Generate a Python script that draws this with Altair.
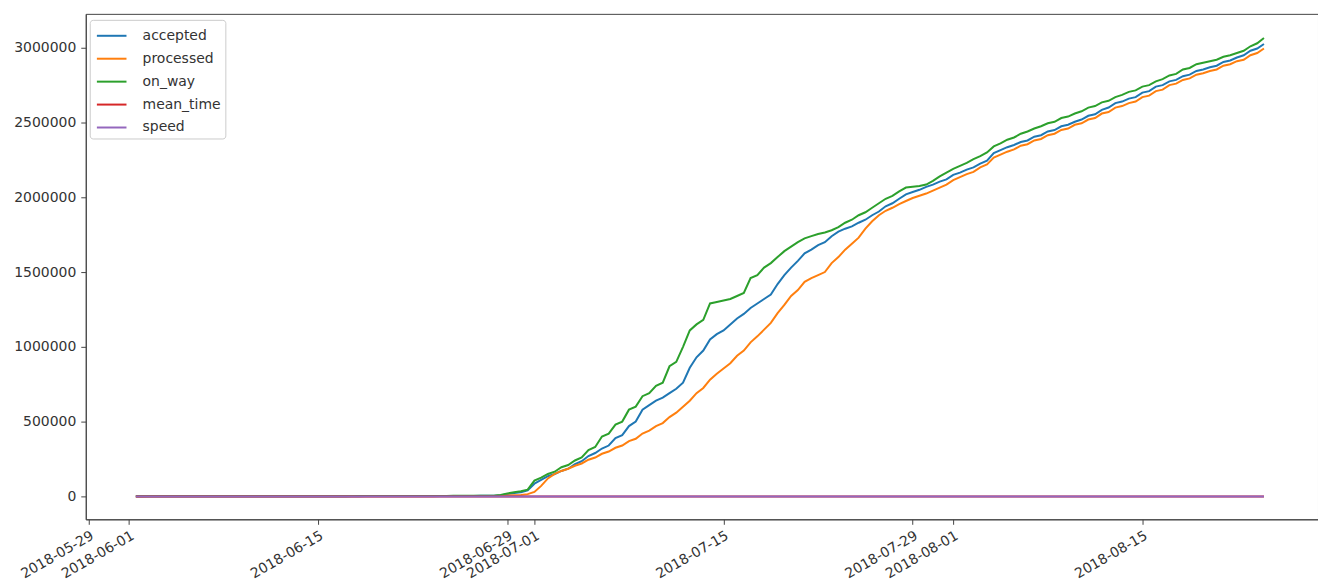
import altair as alt
import pandas as pd

# ---- data (values in thousands, 12-hour samples from 2018-06-01 12:00) ----
series_names = ["accepted", "processed", "on_way", "mean_time", "speed"]
series_colors = ["#1f77b4", "#ff7f0e", "#2ca02c", "#d62728", "#9467bd"]

start_time = "2018-06-01 12:00"

# 2018-06-01 12:00 .. 2018-06-27 12:00 (53 samples)
on_way_early = [0.1, 0.1, 0.2, 0.2, 0.3, 0.3, 0.4, 0.4, 0.5, 0.5,
                0.6, 0.6, 0.7, 0.7, 0.8, 0.8, 0.9, 0.9, 1.0, 1.0,
                1.1, 1.1, 1.2, 1.2, 1.3, 1.3, 1.4, 1.4, 1.5, 1.5,
                1.6, 1.6, 1.7, 1.8, 1.9, 2.0, 2.1, 2.2, 2.3, 2.4,
                2.5, 2.6, 2.7, 2.8, 3.0, 3.2, 3.4, 3.6, 3.8, 4.0,
                4.2, 4.4, 4.7]
accepted_early = [0.1, 0.1, 0.1, 0.2, 0.2, 0.2, 0.3, 0.3, 0.4, 0.4,
                  0.5, 0.5, 0.5, 0.6, 0.6, 0.7, 0.7, 0.8, 0.8, 0.9,
                  0.9, 1.0, 1.0, 1.1, 1.1, 1.2, 1.2, 1.3, 1.3, 1.4,
                  1.4, 1.5, 1.5, 1.6, 1.7, 1.8, 1.9, 2.0, 2.1, 2.2,
                  2.3, 2.4, 2.5, 2.6, 2.7, 2.8, 2.9, 3.0, 3.1, 3.2,
                  3.4, 3.6, 3.8]
processed_early = [0.0, 0.0, 0.1, 0.1, 0.1, 0.1, 0.2, 0.2, 0.2, 0.3,
                   0.3, 0.3, 0.4, 0.4, 0.4, 0.5, 0.5, 0.5, 0.6, 0.6,
                   0.6, 0.7, 0.7, 0.7, 0.8, 0.8, 0.8, 0.9, 0.9, 0.9,
                   1.0, 1.0, 1.0, 1.1, 1.1, 1.2, 1.2, 1.3, 1.3, 1.4,
                   1.4, 1.5, 1.5, 1.6, 1.6, 1.7, 1.7, 1.8, 1.8, 1.9,
                   1.9, 2.0, 2.0]

# 2018-06-28 00:00 .. 2018-08-24 00:00 (115 samples)
on_way_growth = [5, 10, 20, 28, 35, 45, 105, 125, 150, 165,
                 195, 210, 240, 260, 310, 330, 400, 420, 480, 500,
                 580, 600, 670, 690, 740, 760, 870, 900, 1000, 1110,
                 1150, 1180, 1290, 1300, 1310, 1320, 1340, 1360, 1460, 1480,
                 1530, 1560, 1600, 1640, 1670, 1700, 1725, 1740, 1755, 1765,
                 1780, 1800, 1830, 1850, 1880, 1900, 1930, 1960, 1990, 2010,
                 2040, 2065, 2070, 2075, 2085, 2110, 2140, 2165, 2190, 2210,
                 2230, 2255, 2275, 2300, 2340, 2360, 2385, 2400, 2425, 2440,
                 2460, 2475, 2495, 2505, 2530, 2540, 2560, 2575, 2600, 2610,
                 2635, 2645, 2670, 2685, 2705, 2715, 2740, 2750, 2775, 2790,
                 2815, 2825, 2855, 2865, 2890, 2900, 2910, 2920, 2940, 2950,
                 2965, 2980, 3010, 3030, 3065]
accepted_growth = [4, 8, 15, 22, 28, 40, 85, 110, 135, 150,
                   170, 185, 215, 235, 270, 290, 320, 340, 390, 410,
                   470, 500, 580, 610, 640, 660, 690, 720, 760, 860,
                   930, 975, 1050, 1085, 1110, 1150, 1190, 1220, 1260, 1290,
                   1320, 1350, 1420, 1480, 1530, 1575, 1625, 1650, 1680, 1700,
                   1740, 1770, 1790, 1805, 1830, 1850, 1880, 1905, 1940, 1960,
                   1990, 2020, 2035, 2050, 2070, 2085, 2105, 2120, 2150, 2165,
                   2185, 2200, 2225, 2245, 2295, 2315, 2335, 2350, 2370, 2380,
                   2405, 2415, 2440, 2450, 2475, 2485, 2505, 2520, 2545, 2555,
                   2585, 2600, 2630, 2640, 2660, 2670, 2700, 2710, 2740, 2750,
                   2775, 2785, 2810, 2820, 2845, 2855, 2870, 2880, 2905, 2915,
                   2935, 2950, 2980, 2995, 3025]
processed_growth = [2, 4, 6, 8, 10, 15, 30, 70, 120, 150,
                    170, 185, 205, 220, 245, 260, 285, 300, 325, 340,
                    370, 385, 420, 440, 470, 490, 530, 560, 600, 640,
                    690, 725, 780, 820, 855, 890, 940, 975, 1030, 1070,
                    1115, 1160, 1225, 1280, 1340, 1380, 1435, 1460, 1480, 1500,
                    1560, 1600, 1650, 1690, 1730, 1790, 1840, 1880, 1910, 1930,
                    1955, 1975, 1995, 2010, 2025, 2045, 2065, 2085, 2115, 2135,
                    2155, 2170, 2200, 2220, 2265, 2285, 2305, 2320, 2345, 2355,
                    2380, 2390, 2415, 2425, 2450, 2460, 2485, 2495, 2520, 2530,
                    2560, 2570, 2600, 2610, 2630, 2640, 2670, 2680, 2710, 2720,
                    2750, 2760, 2785, 2795, 2820, 2830, 2845, 2855, 2880, 2890,
                    2910, 2920, 2950, 2965, 2995]

mean_time = [0, 0, 0, 0, 0, 0, 0, 0, 0, 0, 0, 0,
             0, 0, 0, 0, 0, 0, 0, 0, 0, 0, 0, 0,
             0, 0, 0, 0, 0, 0, 0, 0, 0, 0, 0, 0,
             0, 0, 0, 0, 0, 0, 0, 0, 0, 0, 0, 0,
             0, 0, 0, 0, 0, 0, 0, 0, 0, 0, 0, 0,
             0, 0, 0, 0, 0, 0, 0, 0, 0, 0, 0, 0,
             0, 0, 0, 0, 0, 0, 0, 0, 0, 0, 0, 0,
             0, 0, 0, 0, 0, 0, 0, 0, 0, 0, 0, 0,
             0, 0, 0, 0, 0, 0, 0, 0, 0, 0, 0, 0,
             0, 0, 0, 0, 0, 0, 0, 0, 0, 0, 0, 0,
             0, 0, 0, 0, 0, 0, 0, 0, 0, 0, 0, 0,
             0, 0, 0, 0, 0, 0, 0, 0, 0, 0, 0, 0,
             0, 0, 0, 0, 0, 0, 0, 0, 0, 0, 0, 0,
             0, 0, 0, 0, 0, 0, 0, 0, 0, 0, 0, 0]
speed = [0, 0, 0, 0, 0, 0, 0, 0, 0, 0, 0, 0,
         0, 0, 0, 0, 0, 0, 0, 0, 0, 0, 0, 0,
         0, 0, 0, 0, 0, 0, 0, 0, 0, 0, 0, 0,
         0, 0, 0, 0, 0, 0, 0, 0, 0, 0, 0, 0,
         0, 0, 0, 0, 0, 0, 0, 0, 0, 0, 0, 0,
         0, 0, 0, 0, 0, 0, 0, 0, 0, 0, 0, 0,
         0, 0, 0, 0, 0, 0, 0, 0, 0, 0, 0, 0,
         0, 0, 0, 0, 0, 0, 0, 0, 0, 0, 0, 0,
         0, 0, 0, 0, 0, 0, 0, 0, 0, 0, 0, 0,
         0, 0, 0, 0, 0, 0, 0, 0, 0, 0, 0, 0,
         0, 0, 0, 0, 0, 0, 0, 0, 0, 0, 0, 0,
         0, 0, 0, 0, 0, 0, 0, 0, 0, 0, 0, 0,
         0, 0, 0, 0, 0, 0, 0, 0, 0, 0, 0, 0,
         0, 0, 0, 0, 0, 0, 0, 0, 0, 0, 0, 0]

x_tick_dates = ["2018-05-29", "2018-06-01", "2018-06-15", "2018-06-29", "2018-07-01",
                "2018-07-15", "2018-07-29", "2018-08-01", "2018-08-15"]
y_tick_values = [0, 500000, 1000000, 1500000, 2000000, 2500000, 3000000]

# ---- build long table ----
accepted = accepted_early + accepted_growth
processed = processed_early + processed_growth
on_way = on_way_early + on_way_growth
series_values = [accepted, processed, on_way, mean_time, speed]

n = len(accepted)
times = pd.date_range(start_time, periods=n, freq="12h").strftime("%Y-%m-%dT%H:%M:%S")
rows = []
for name, vals in zip(series_names, series_values):
    for t, v in zip(times, vals):
        rows.append({"time": t, "series": name, "value": v * 1000})
df = pd.DataFrame(rows)


def dt(s, hours=0):
    y, m, d = (int(p) for p in s.split("-"))
    return alt.DateTime(year=y, month=m, date=d, hours=hours)


x_ticks = [dt(s) for s in x_tick_dates]
x_domain = [dt("2018-05-28", 19), dt("2018-08-28", 0)]

chart = alt.Chart(df).mark_line(strokeWidth=2, clip=True).encode(
    x=alt.X("time:T",
            scale=alt.Scale(domain=x_domain, nice=False),
            axis=alt.Axis(values=x_ticks, format="%Y-%m-%d", title=None, grid=False,
                          labelAngle=330, labelAlign="right", labelBaseline="top",
                          labelOverlap=False, labelFlush=False, labelPadding=4)),
    y=alt.Y("value:Q",
            scale=alt.Scale(domain=[-153333, 3226667], nice=False, zero=False),
            axis=alt.Axis(values=y_tick_values, format="d", title=None, grid=False,
                          labelPadding=5)),
    color=alt.Color("series:N",
                    scale=alt.Scale(domain=series_names, range=series_colors),
                    legend=alt.Legend(title=None, orient="none", legendX=4, legendY=6,
                                      fillColor="white", strokeColor="#cccccc",
                                      cornerRadius=3, padding=4,
                                      symbolType="M-1.4,0H1.4", symbolSize=450,
                                      symbolStrokeWidth=2, symbolOffset=6,
                                      labelOffset=19, labelFontSize=14,
                                      labelFont="DejaVu Sans", labelColor="#333333",
                                      rowPadding=4)),
    order=alt.Order("series:N"),
).properties(
    width=1236, height=507,
    padding={"left": 78, "top": 5, "right": 0, "bottom": 60},
    autosize=alt.AutoSizeParams(type="none"),
).configure_view(
    stroke="#444444", strokeWidth=1
).configure_axis(
    labelFont="DejaVu Sans", labelFontSize=14, labelColor="#333333",
    tickColor="#444444", domainColor="#444444", tickSize=5
)

chart.save("out.html", embed_options={"renderer": "svg", "actions": False})
